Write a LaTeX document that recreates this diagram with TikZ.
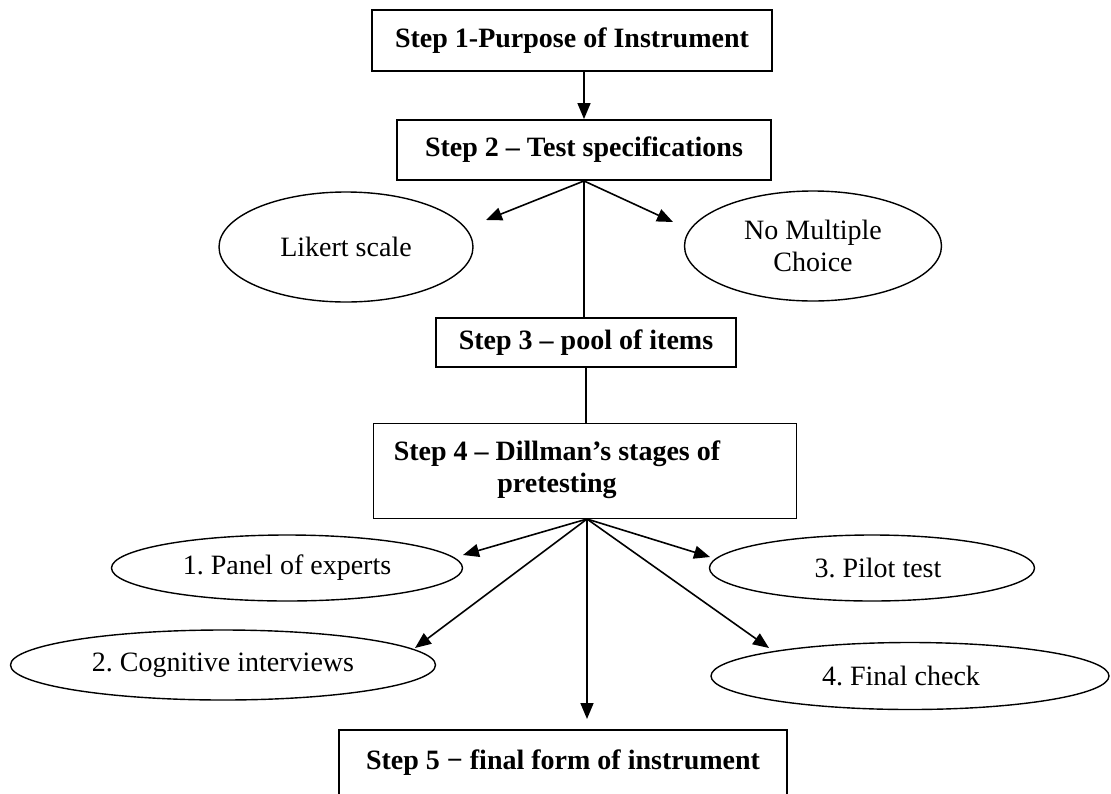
\documentclass[tikz,border=0pt]{standalone}
\usepackage{fontspec}
\setmainfont{Liberation Serif}
\usetikzlibrary{shapes.geometric,arrows.meta,calc}
\frenchspacing
\begin{document}
\begin{tikzpicture}[x=1pt,y=-1pt,
  box/.style={draw,line width=1.9pt,rectangle,inner sep=0pt,font=\bfseries\fontsize{28}{32}\selectfont},
  boxtext/.style={inner sep=0pt,align=center,font=\bfseries\fontsize{28}{32}\selectfont},
  oval/.style={draw,line width=1.4pt,ellipse,inner sep=0pt,align=center,font=\frenchspacing\fontsize{28}{32}\selectfont},
  arr/.style={line width=1.6pt,-{Triangle[length=16pt,width=13pt]}},
  ln/.style={line width=1.6pt}]
\useasboundingbox (0,0) rectangle (1111,793);
\clip (0,0) rectangle (1111,793);
% boxes
\node[box,minimum width=400pt,minimum height=61pt] (s1) at (572,40.5) {Step 1-Purpose of Instrument};
\node[box,minimum width=374pt,minimum height=60pt] (s2) at (584,150) {Step 2 – Test specifications};
\node[box,minimum width=300pt,minimum height=49pt] (s3) at (586,342.5) {Step 3 – pool of items};
\node[box,minimum width=423pt,minimum height=95pt] (s4) at (585,471) {};
\node[boxtext] (s4t) at (557,470) {Step 4 – Dillman’s stages of\\pretesting};
\node[box,minimum width=448pt,minimum height=66pt] (s5) at (563,763) {Step 5 − final form of instrument};
% ellipses
\node[oval,minimum width=254pt,minimum height=110pt] (lik) at (346,247) {Likert scale};
\node[oval,minimum width=257pt,minimum height=110pt] (nmc) at (813,246) {No Multiple\\Choice};
\node[oval,minimum width=351pt,minimum height=66pt] (pan) at (287,568) {1. Panel of experts};
\node[oval,minimum width=325pt,minimum height=66pt] (pil) at (872,568) {\hspace*{12pt}3. Pilot test};
\node[oval,minimum width=425pt,minimum height=70pt] (cog) at (223,665) {2. Cognitive interviews};
\node[oval,minimum width=398pt,minimum height=67pt] (fin) at (910,676) {4. Final check\hspace*{18pt}};
% arrow end points
\coordinate (j1) at (s1.south -| s2.north);
\coordinate (j2) at (s2.south);
\coordinate (tL) at (486,220);
\coordinate (tR) at (673,222);
\coordinate (j4) at (587,519);
\coordinate (tPan) at (463,555);
\coordinate (tPil) at (710,557);
\coordinate (tCog) at (415,648);
\coordinate (tFin) at (769,648);
\coordinate (tS5) at (587,719);
% connectors
\draw[arr] (j1) -- (s2.north);
\draw[arr] (j2) -- (tL);
\draw[arr] (j2) -- (tR);
\draw[ln] (j2) -- (j2 |- s3.north);
\draw[ln] (s3.south) -- (s3.south |- s4.north);
\draw[arr] (j4) -- (tPan);
\draw[arr] (j4) -- (tPil);
\draw[arr] (j4) -- (tCog);
\draw[arr] (j4) -- (tFin);
\draw[arr] (j4) -- (tS5);
\end{tikzpicture}
\end{document}
